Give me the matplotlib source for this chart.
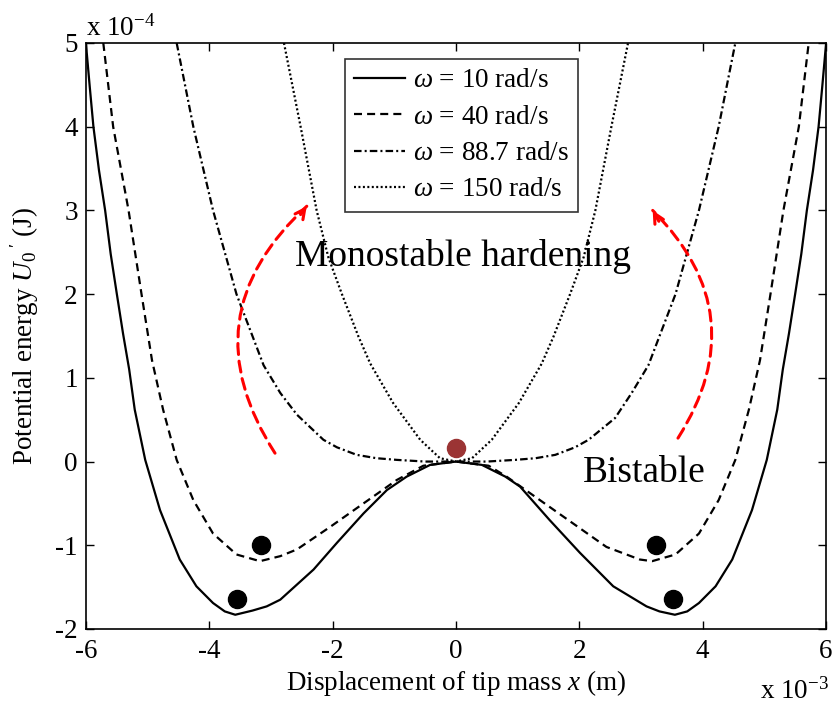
import matplotlib
matplotlib.use("Agg")
import matplotlib.pyplot as plt

plt.rcParams["font.family"] = "Liberation Serif"
plt.rcParams["mathtext.fontset"] = "custom"
plt.rcParams["mathtext.rm"] = "Liberation Serif"
plt.rcParams["mathtext.it"] = "Liberation Serif:italic"
plt.rcParams["axes.unicode_minus"] = False

# displacement in units of 1e-3 m, potential energy in units of 1e-4 J
x_w10 = [-6.0, -5.94, -5.88, -5.79, -5.69, -5.60, -5.50, -5.40, -5.30, -5.21,
         -5.04, -4.80, -4.48, -4.21, -3.94, -3.75, -3.58, -3.30, -3.07, -2.85,
         -2.31, -1.93, -1.50, -1.12, -0.80, -0.42, 0.0, 0.42, 0.80, 1.04, 1.52,
         2.01, 2.55, 3.09, 3.30, 3.55, 3.75, 3.94, 4.21, 4.48, 4.80, 5.04, 5.21,
         5.30, 5.40, 5.50, 5.60, 5.69, 5.79, 5.88, 5.94, 6.0]
u_w10 = [4.98, 4.48, 4.0, 3.48, 3.0, 2.48, 2.0, 1.53, 1.1, 0.62,
         0.02, -0.58, -1.17, -1.49, -1.69, -1.79, -1.83, -1.78, -1.73, -1.65,
         -1.29, -0.97, -0.62, -0.34, -0.18, -0.04, 0.0, -0.04, -0.18, -0.30, -0.70,
         -1.09, -1.49, -1.73, -1.79, -1.83, -1.79, -1.69, -1.49, -1.17, -0.58, 0.02, 0.62,
         1.1, 1.53, 2.0, 2.48, 3.0, 3.48, 4.0, 4.48, 4.98]

x_w40 = [-5.72, -5.56, -5.43, -5.31, -5.10, -4.93, -4.75, -4.53, -4.26, -3.94,
         -3.56, -3.18, -2.85, -2.58, -2.04, -1.50, -0.96, -0.53, 0.0, 0.53, 0.82,
         1.36, 1.90, 2.44, 2.98, 3.18, 3.56, 3.94, 4.26, 4.53, 4.75, 4.93,
         5.10, 5.31, 5.43, 5.56, 5.72]
u_w40 = [5.0, 4.0, 3.48, 3.0, 2.0, 1.21, 0.62, 0.02, -0.46, -0.86,
         -1.11, -1.19, -1.13, -1.05, -0.78, -0.50, -0.22, -0.05, 0.0, -0.05, -0.18,
         -0.46, -0.74, -1.02, -1.17, -1.19, -1.11, -0.86, -0.46, 0.02, 0.62, 1.21,
         2.0, 3.0, 3.48, 4.0, 5.0]

x_w887 = [-4.53, -4.26, -3.94, -3.56, -3.12, -2.85, -2.58, -2.15, -1.93, -1.61,
          -1.29, -0.96, -0.50, 0.0, 0.50, 0.96, 1.29, 1.61, 1.93, 2.15, 2.58,
          2.85, 3.12, 3.56, 3.94, 4.26, 4.53]
u_w887 = [5.0, 4.0, 3.0, 2.0, 1.15, 0.82, 0.56, 0.26, 0.17, 0.08,
          0.04, 0.02, 0.0, 0.0, 0.0, 0.02, 0.04, 0.08, 0.17, 0.26, 0.52,
          0.82, 1.15, 2.0, 3.0, 4.0, 5.0]

x_w150 = [-2.79, -2.52, -2.26, -2.07, -1.85, -1.58, -1.39, -1.02, -0.58, -0.26,
          0.0, 0.26, 0.58, 1.02, 1.39, 1.58, 1.85, 2.07, 2.26, 2.52, 2.79]
u_w150 = [5.0, 4.0, 3.0, 2.44, 2.0, 1.49, 1.17, 0.70, 0.26, 0.04,
          0.0, 0.04, 0.26, 0.70, 1.17, 1.49, 2.0, 2.44, 3.0, 4.0, 5.0]

labels = [r"$\omega$ = 10 rad/s", r"$\omega$ = 40 rad/s",
          r"$\omega$ = 88.7 rad/s", r"$\omega$ = 150 rad/s"]

# equilibrium points
well_x = [-3.17, -3.55, 3.25, 3.52]
well_u = [-1.0, -1.64, -1.0, -1.64]
center_x = [0.0]
center_u = [0.16]

fig = plt.figure(figsize=(8.36, 7.08), dpi=100)
ax = fig.add_axes([0.1029, 0.1116, 0.8851, 0.8277])

lw = 1.6
ax.plot(x_w10, u_w10, color="black", lw=lw, linestyle="-", label=labels[0])
ax.plot(x_w40, u_w40, color="black", lw=lw, linestyle=(0, (3.6, 2.3)), label=labels[1])
ax.plot(x_w887, u_w887, color="black", lw=lw, linestyle=(0, (3.4, 1.4, 0.9, 1.4)),
        label=labels[2])
ax.plot(x_w150, u_w150, color="black", lw=lw, linestyle=(0, (0.9, 1.1)), label=labels[3])

ax.plot(well_x, well_u, "o", color="black", ms=13, zorder=5)
ax.plot(center_x, center_u, "o", color="#9b3434", ms=13, zorder=5)

# red dashed arrows
red_kw = dict(color="red", lw=2.2, linestyle=(0, (3.6, 2.2)))
ax.annotate("", xy=(-2.42, 3.05), xytext=(-2.935, 0.10),
            arrowprops=dict(arrowstyle="-", connectionstyle="arc3,rad=-0.42",
                            shrinkA=0, shrinkB=0, **red_kw))
ax.annotate("", xy=(-2.42, 3.05), xytext=(-2.52, 2.95),
            arrowprops=dict(arrowstyle="->,head_length=0.7,head_width=0.35",
                            color="red", lw=2.2, shrinkA=0, shrinkB=0))
ax.annotate("", xy=(3.19, 3.0), xytext=(3.60, 0.28),
            arrowprops=dict(arrowstyle="-", connectionstyle="arc3,rad=0.40",
                            shrinkA=0, shrinkB=0, **red_kw))
ax.annotate("", xy=(3.19, 3.0), xytext=(3.29, 2.87),
            arrowprops=dict(arrowstyle="->,head_length=0.7,head_width=0.35",
                            color="red", lw=2.2, shrinkA=0, shrinkB=0))

ax.text(0.11, 2.33, "Monostable hardening", fontsize=27, ha="center", va="baseline")
ax.text(3.06, -0.25, "Bistable", fontsize=27, ha="center", va="baseline")

ax.set_xlim(-6, 6)
ax.set_ylim(-2, 5)
ax.set_xticks([-6, -4, -2, 0, 2, 4, 6])
ax.set_yticks([-2, -1, 0, 1, 2, 3, 4, 5])
ax.tick_params(direction="in", length=6, width=1, top=True, right=True,
               labelsize=19.5)
ax.tick_params(axis="x", pad=7)
ax.tick_params(axis="y", pad=6)
for s in ax.spines.values():
    s.set_linewidth(1.2)

ax.set_xlabel(r"Displacement of tip mass $x$ (m)", fontsize=19.5, labelpad=3)
ax.set_ylabel(r"Potential energy $U_0\,'$ (J)", fontsize=19.5, labelpad=10)

ax.text(0.0, 1.012, r"x 10$^{-4}$", transform=ax.transAxes, fontsize=19.5,
        ha="left", va="baseline")
ax.text(1.004, -0.118, r"x 10$^{-3}$", transform=ax.transAxes, fontsize=19.5,
        ha="right", va="baseline")

leg = ax.legend(loc="upper left", bbox_to_anchor=(0.35, 0.973), borderaxespad=0,
                fontsize=19.5, frameon=True, fancybox=False, handlelength=1.85,
                handletextpad=0.3, labelspacing=0.42, borderpad=0.35)
leg.get_frame().set_edgecolor("black")
leg.get_frame().set_linewidth(1.2)

fig.savefig("out.png", dpi=100)
